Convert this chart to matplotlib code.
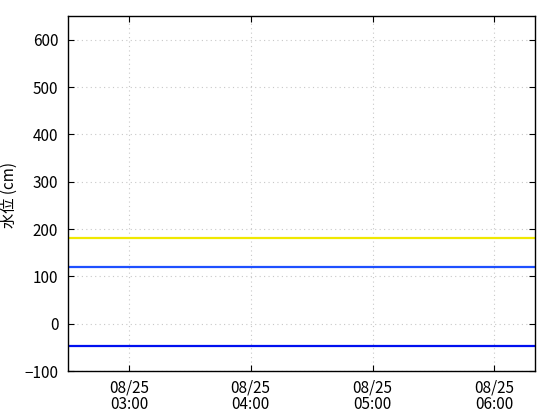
import matplotlib
matplotlib.use("Agg")
import matplotlib.pyplot as plt
import matplotlib.dates as mdates
import numpy as np
import pandas as pd

plt.rcParams['font.family'] = ['Noto Sans CJK JP', 'DejaVu Sans']

# reference levels (cm)
level_names = ["warning", "standby", "low"]
level_values = [180, 119, -47]
level_colors = ["#f0e800", "#1e50ff", "#0010f0"]

x_start = pd.Timestamp("2024-08-25 02:30")
x_end = pd.Timestamp("2024-08-25 06:20")
tick_times = pd.date_range("2024-08-25 03:00", "2024-08-25 06:00", freq="1h")

fig = plt.figure(figsize=(5.6, 4.2), dpi=100)
ax = fig.add_axes([68 / 560, 1 - 371 / 420, (535 - 68) / 560, (371 - 16) / 420])

for name, val, col in zip(level_names, level_values, level_colors):
    ax.plot([x_start, x_end], [val, val], color=col, lw=1.6, label=name)

ax.set_xlim(x_start, x_end)
ax.set_ylim(-100, 650)
ax.set_yticks(np.arange(-100, 601, 100))
ax.set_xticks(tick_times)
ax.xaxis.set_major_formatter(mdates.DateFormatter("%m/%d\n%H:%M"))

ax.grid(True, color="#c8c8c8", linestyle=(0, (1, 3)), linewidth=0.8)
ax.tick_params(direction="in", top=True, right=True, length=4, labelsize=11)
ax.tick_params(axis="y", pad=7)
ax.tick_params(axis="x", pad=6)
for lbl in ax.get_xticklabels():
    lbl.set_linespacing(0.95)
for s in ax.spines.values():
    s.set_linewidth(1.0)

ax.set_ylabel("水位 (cm)", fontsize=11)
ax.yaxis.set_label_coords(-0.107, 0.497)

fig.savefig("out.png", dpi=100)
